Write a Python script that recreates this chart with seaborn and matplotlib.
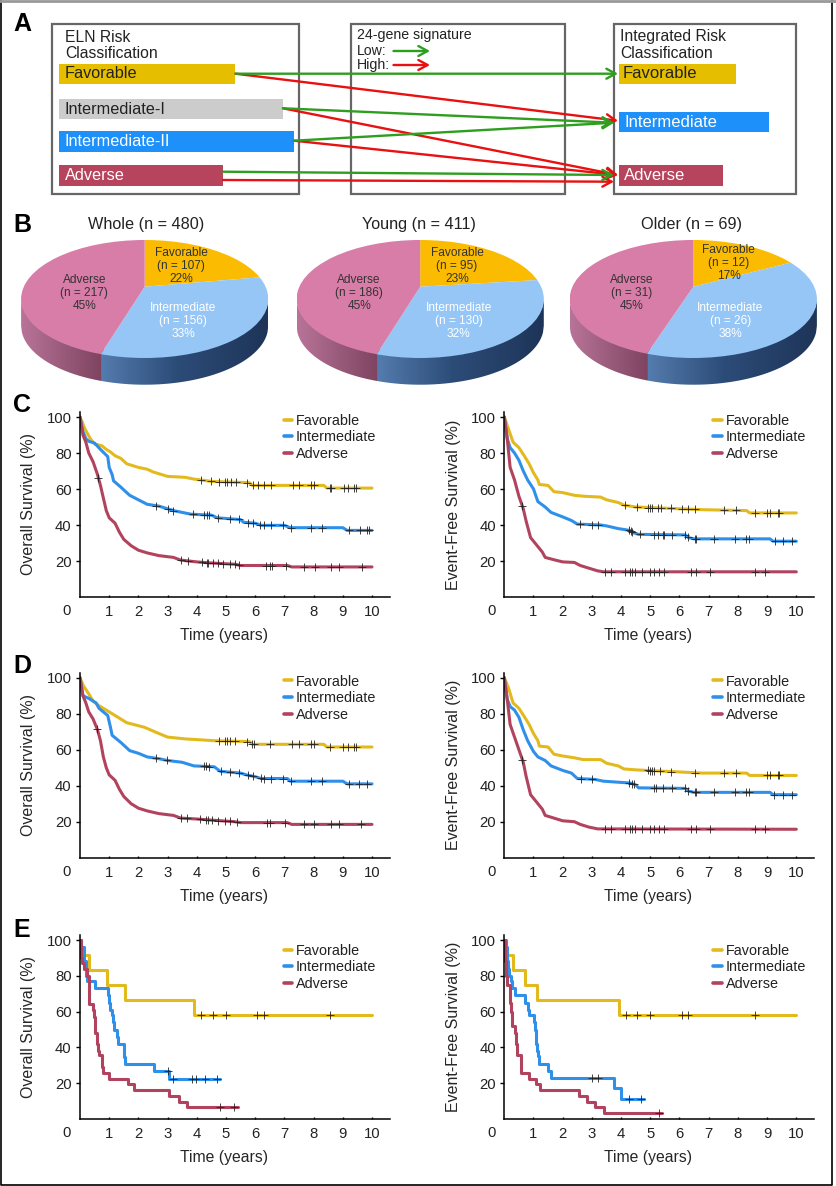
import numpy as np
import matplotlib
matplotlib.use("Agg")
import matplotlib.pyplot as plt
import seaborn as sns
from matplotlib.patches import Rectangle, Ellipse, Polygon

# panel B
pie_names = ["Favorable", "Intermediate", "Adverse"]
pie_titles = ["Whole (n = 480)", "Young (n = 411)", "Older (n = 69)"]
whole_n = [107, 156, 217]
young_n = [95, 130, 186]
older_n = [12, 26, 31]
whole_pct = [22, 33, 45]
young_pct = [23, 32, 45]
older_pct = [17, 38, 45]

# panel C, overall survival
c_os_fav_t = [0, .08, .15, .25, .35, .5, .75, .9, 1.05, 1.2, 1.4, 1.6, 1.8, 2.0, 2.3, 2.5, 2.8, 3.0, 3.6, 3.9, 4.15, 4.5, 5.8, 5.9, 8.35, 8.45, 10]
c_os_fav_s = [100, 97, 94, 91, 88, 85, 84, 82, 80.5, 78.5, 77, 74, 73, 72, 71, 69.5, 68, 67, 66.5, 65.5, 65, 64.2, 63.5, 62, 62, 60.5, 60.5]
c_os_fav_c = [4.15, 4.5, 4.75, 4.97, 5.03, 5.17, 5.34, 5.71, 5.91, 6.08, 6.29, 6.54, 7.29, 7.51, 7.92, 8.03, 8.57, 8.6, 9.03, 9.17, 9.4, 9.45]
c_os_int_t = [0, .1, .2, .3, .5, .7, .95, 1.0, 1.1, 1.15, 1.4, 1.7, 2.0, 2.3, 2.7, 3.0, 3.2, 3.8, 4.5, 4.7, 5.5, 5.6, 6.0, 6.2, 7.0, 7.2, 9.0, 9.15, 10]
c_os_int_s = [100, 92, 88, 86.5, 85.5, 82, 78, 72, 68, 64.5, 61, 56.5, 54, 51.5, 50.5, 49, 48, 46, 45.5, 44, 43, 41.5, 41, 39.8, 39.8, 38.5, 38.5, 37, 37]
c_os_int_c = [2.59, 3.0, 3.2, 3.86, 4.25, 4.34, 4.42, 4.74, 5.14, 5.43, 5.77, 5.94, 6.17, 6.29, 6.54, 6.95, 7.23, 7.91, 8.29, 9.22, 9.58, 9.83, 9.89]
c_os_adv_t = [0, .1, .2, .3, .45, .6, .7, .8, .9, 1.0, 1.2, 1.35, 1.5, 1.75, 2.0, 2.3, 2.7, 3.2, 3.45, 4.0, 4.4, 5.3, 5.5, 7.1, 7.25, 10]
c_os_adv_s = [100, 90, 86, 80, 75, 68, 62, 55, 48, 44, 41, 36, 32, 28.5, 26, 24.5, 23, 22, 20.5, 19.5, 19, 18.2, 17.5, 17.5, 16.7, 16.7]
c_os_adv_c = [.63, 3.46, 3.69, 4.17, 4.34, 4.4, 4.57, 4.74, 4.91, 5.14, 5.31, 5.45, 6.37, 6.49, 6.57, 7.05, 7.68, 8.05, 8.59, 8.88, 9.66]

# panel C, event-free survival
c_ef_fav_t = [0, .15, .3, .5, .7, .85, 1.0, 1.15, 1.2, 1.5, 1.7, 2.0, 2.4, 2.7, 3.3, 3.5, 3.9, 4.1, 4.5, 6.8, 8.3, 8.4, 10]
c_ef_fav_s = [100, 93, 86, 83, 78, 74, 69, 65, 62.5, 62, 58.5, 58, 56.5, 56, 55.5, 54, 52.5, 51, 50, 48.5, 48, 46.7, 46.7]
c_ef_fav_c = [4.15, 4.55, 4.93, 4.98, 5.06, 5.27, 5.35, 5.72, 6.07, 6.29, 6.52, 7.51, 7.92, 8.57, 9.0, 9.09, 9.36, 9.41]
c_ef_int_t = [0, .1, .2, .35, .5, .65, .8, 1.0, 1.15, 1.4, 1.6, 2.0, 2.3, 2.5, 3.3, 3.5, 3.9, 4.3, 4.4, 4.6, 6.2, 6.3, 6.5, 9.1, 9.2, 10]
c_ef_int_s = [100, 88, 83, 80, 76, 70, 65, 60, 53, 50, 47, 44.5, 42.5, 40.5, 40, 39.5, 38, 37, 35.8, 34.8, 34.5, 33, 32.3, 32.3, 31, 31]
c_ef_int_c = [2.59, 2.99, 3.22, 4.28, 4.33, 4.39, 4.66, 5.13, 5.27, 5.42, 5.47, 5.75, 6.18, 6.29, 6.52, 6.58, 7.17, 7.91, 8.27, 8.37, 9.26, 9.54, 9.86]
c_ef_adv_t = [0, .1, .2, .35, .5, .65, .75, .9, 1.1, 1.3, 1.4, 1.7, 2.0, 2.4, 2.6, 2.9, 3.2, 3.4, 10]
c_ef_adv_s = [100, 88, 72, 65, 56, 49, 42, 33, 29, 25, 22, 20.7, 19.5, 19.2, 17.5, 16, 14.5, 14, 14]
c_ef_adv_c = [.62, 3.44, 3.67, 4.15, 4.32, 4.39, 4.47, 4.7, 4.98, 5.13, 5.3, 5.47, 6.41, 6.56, 7.04, 8.57, 8.92]

# panel D, overall survival
d_os_fav_t = [0, .1, .3, .45, .6, .7, 1.2, 1.6, 2.2, 2.6, 3.0, 3.6, 4.6, 5.8, 5.9, 8.35, 8.45, 10]
d_os_fav_s = [100, 96, 91, 87, 85, 84, 79, 75, 72.5, 69.7, 67, 66, 65, 64.5, 63, 63, 61.5, 61.5]
d_os_fav_c = [4.77, 4.97, 5.03, 5.14, 5.31, 5.71, 5.89, 5.97, 6.51, 7.26, 7.51, 7.92, 8.03, 8.57, 8.99, 9.17, 9.37, 9.44]
d_os_int_t = [0, .1, .3, .55, .65, .95, 1.05, 1.1, 1.4, 1.7, 2.0, 2.3, 2.7, 3.0, 3.5, 3.9, 4.6, 4.8, 5.5, 5.7, 6.0, 6.2, 7.1, 7.2, 9.0, 9.15, 10]
d_os_int_s = [100, 90, 88.5, 86, 83, 79, 72, 68, 64, 59.5, 58, 56, 55, 54, 53, 51, 50.5, 48, 47, 46, 45, 44, 44, 42.5, 42.5, 41, 41]
d_os_int_c = [2.59, 2.97, 4.25, 4.32, 4.43, 4.82, 5.14, 5.43, 5.74, 5.94, 6.19, 6.29, 6.54, 6.95, 7.23, 7.91, 8.29, 9.22, 9.55, 9.83]
d_os_adv_t = [0, .1, .2, .3, .45, .6, .7, .8, .9, 1.0, 1.2, 1.35, 1.5, 1.75, 2.0, 2.3, 2.7, 3.2, 3.45, 4.0, 4.4, 5.3, 5.5, 7.1, 7.25, 10]
d_os_adv_s = [100, 90, 86, 81, 77, 71, 65, 56, 50, 46, 43, 38, 34, 30, 27.5, 26, 24.5, 23.5, 22, 21.5, 21, 20, 19.5, 19.5, 18.5, 18.5]
d_os_adv_c = [.59, 3.46, 3.66, 4.11, 4.32, 4.38, 4.51, 4.74, 4.97, 5.14, 5.39, 6.4, 6.51, 7.03, 7.68, 8.02, 8.59, 8.88, 9.62]

# panel D, event-free survival
d_ef_fav_t = [0, .15, .3, .5, .7, .85, 1.0, 1.15, 1.2, 1.5, 1.7, 2.0, 2.4, 2.7, 3.3, 3.5, 3.9, 4.1, 4.5, 6.8, 8.3, 8.4, 10]
d_ef_fav_s = [100, 94, 86, 83, 78, 74, 69, 65, 62, 61.5, 57.5, 56.5, 55.5, 54.5, 54.5, 52.5, 51, 49.3, 48.8, 47, 47, 45.7, 45.7]
d_ef_fav_c = [4.93, 4.98, 5.06, 5.12, 5.32, 5.72, 6.52, 7.51, 7.95, 9.0, 9.09, 9.36, 9.41]
d_ef_int_t = [0, .1, .2, .35, .5, .65, .8, 1.0, 1.15, 1.4, 1.6, 2.0, 2.3, 2.5, 3.1, 3.4, 4.3, 4.5, 4.6, 6.2, 6.3, 6.5, 9.1, 9.2, 10]
d_ef_int_s = [100, 88, 84, 82, 78, 71, 65, 59, 56, 54, 51, 48.5, 47, 44, 43.5, 42.5, 41.5, 40.5, 38.8, 38.5, 37, 36.3, 36.3, 35, 35]
d_ef_int_c = [2.62, 2.99, 4.28, 4.36, 4.44, 5.13, 5.21, 5.44, 5.75, 6.18, 6.29, 6.52, 6.58, 7.17, 7.91, 8.27, 8.37, 9.22, 9.54, 9.86]
d_ef_adv_t = [0, .1, .2, .35, .5, .65, .75, .9, 1.1, 1.3, 1.4, 1.7, 2.0, 2.4, 2.6, 2.9, 3.2, 10]
d_ef_adv_s = [100, 88, 74, 67, 60, 53, 45, 35, 31, 27, 23.5, 22, 20.5, 20, 18.5, 17, 16, 15.8]
d_ef_adv_c = [.62, 3.44, 3.67, 4.15, 4.32, 4.39, 4.49, 4.7, 4.98, 5.13, 5.3, 5.47, 6.41, 6.56, 7.04, 8.57, 8.92]

# panel E, overall survival
e_os_fav_t = [0, .01, .3, .92, 1.55, 3.9, 10]
e_os_fav_s = [100, 91.7, 83.3, 75, 66.7, 58.3, 58.3]
e_os_fav_c = [4.14, 4.54, 4.99, 6.06, 6.29, 8.55]
e_os_int_t = [0, .05, .12, .15, .2, .22, .25, .5, .95, 1.0, 1.03, 1.08, 1.13, 1.15, 1.27, 1.3, 1.5, 1.52, 1.55, 2.55, 3.05, 4.8]
e_os_int_s = [100, 96, 92, 88.5, 84, 80, 77, 73, 69, 65, 61, 58, 54, 50, 46, 42, 38, 34.5, 30.7, 26.9, 22.3, 22.3]
e_os_int_c = [3.0, 3.18, 3.83, 3.98, 4.29, 4.69]
e_os_adv_t = [0, .03, .08, .15, .25, .3, .32, .45, .47, .5, .53, .57, .6, .65, .75, .8, 1.0, 1.65, 1.85, 3.05, 3.4, 3.65, 5.4]
e_os_adv_s = [100, 90, 87, 84, 80, 71, 64.5, 61, 57, 52, 48, 42, 38, 35.5, 29, 25.8, 22.6, 19.4, 16.1, 12.9, 9.7, 6.5, 6.5]
e_os_adv_c = [4.8, 5.29]

# panel E, event-free survival
e_ef_fav_t = [0, .01, .3, .72, 1.12, 3.93, 10]
e_ef_fav_s = [100, 91.7, 83.3, 75, 66.7, 58.3, 58.3]
e_ef_fav_c = [4.16, 4.56, 4.98, 6.09, 6.29, 8.57]
e_ef_int_t = [0, .05, .1, .13, .17, .22, .25, .37, .72, .8, .85, 1.03, 1.05, 1.08, 1.1, 1.12, 1.15, 1.18, 1.5, 1.6, 3.75, 4.0, 4.8]
e_ef_int_s = [100, 96, 88, 84, 80, 77, 73, 69, 65, 61, 58, 54, 50, 46, 42, 38, 35, 31, 27, 23, 17.3, 11.3, 11.3]
e_ef_int_c = [3.01, 3.22, 4.28, 4.68]
e_ef_adv_t = [0, .03, .05, .1, .18, .2, .22, .25, .38, .4, .43, .57, .58, .83, 1.07, 1.22, 2.55, 2.83, 3.1, 3.4, 5.4]
e_ef_adv_s = [100, 88, 80, 75, 71, 65, 60, 52, 48, 42, 35.5, 29, 25.8, 22.6, 19.4, 16, 13, 9.7, 6.5, 3.2, 3.2]
e_ef_adv_c = [5.29]

km_names = ["Favorable", "Intermediate", "Adverse"]
km_colors = ["#E3BA1E", "#2F90EA", "#B2435F"]
x_ticks = [1, 2, 3, 4, 5, 6, 7, 8, 9, 10]
y_ticks = [20, 40, 60, 80, 100]

sns.set_theme(style="white")
plt.rcParams["font.family"] = ["Liberation Sans", "DejaVu Sans"]
plt.rcParams["text.color"] = "#222222"

W, H = 837, 1186
fig = plt.figure(figsize=(W / 100, H / 100), dpi=100, facecolor="white")


def px_axes(left, top, right, bottom, **kw):
    return fig.add_axes([left / W, 1 - bottom / H, (right - left) / W, (bottom - top) / H], **kw)


bg = px_axes(0, 0, W, H)
bg.set_xlim(0, W)
bg.set_ylim(H, 0)
bg.axis("off")

# outer frame
bg.plot([1, 1, 832, 832], [0, 1185, 1185, 0], color="black", lw=1.2)
bg.plot([0, 837], [1, 1], color="#999999", lw=2)

for letter, yy in zip("ABCDE", [24, 225, 405, 666, 930]):
    bg.text(13, yy, letter, fontsize=18, fontweight="bold", color="black", va="center", ha="left")

# panel A
for x0, x1 in [(52, 299), (351, 565), (614, 796)]:
    bg.add_patch(Rectangle((x0, 24), x1 - x0, 170, fill=False, ec="#666666", lw=1.6))

bar_fav, bar_mid, bar_blue, bar_adv = "#E5BE00", "#CCCCCC", "#1E90FA", "#B5445C"
left_bars = [("Favorable", 235.5, 63.5, bar_fav, "#222222"),
             ("Intermediate-I", 283, 98.5, bar_mid, "#222222"),
             ("Intermediate-II", 294, 131, bar_blue, "white"),
             ("Adverse", 223, 165, bar_adv, "white")]
for name, x1, y0, col, tc in left_bars:
    bg.add_patch(Rectangle((58.7, y0), x1 - 58.7, 20.5, color=col, lw=0))
    bg.text(65, y0 + 10.5, name, fontsize=11.7, color=tc, va="center")
right_bars = [("Favorable", 736, 63.5, bar_fav, "#222222", 623),
              ("Intermediate", 769.5, 111.8, bar_blue, "white", 624.5),
              ("Adverse", 723, 165, bar_adv, "white", 623.5)]
for name, x1, y0, col, tc, xt in right_bars:
    bg.add_patch(Rectangle((619.3, y0), x1 - 619.3, 20.5, color=col, lw=0))
    bg.text(xt, y0 + 10.5, name, fontsize=12, color=tc, va="center")

bg.text(65, 37, "ELN Risk", fontsize=11.3, va="center")
bg.text(65, 53, "Classification", fontsize=11.3, va="center")
bg.text(620.5, 37, "Integrated Risk", fontsize=11.3, va="center")
bg.text(620.5, 53, "Classification", fontsize=11.3, va="center")
bg.text(357, 35, "24-gene signature", fontsize=10.2, va="center")
bg.text(357, 51, "Low:", fontsize=10.2, va="center")
bg.text(357, 65, "High:", fontsize=10.2, va="center")

green, red = "#2E9E1F", "#E81010"
arrows = [((235.5, 73.7), (618, 120.7), red), ((283, 108.3), (618, 175), red),
          ((294, 140.7), (618, 175), red), ((223, 180), (614, 181.7), red),
          ((393.5, 65), (430, 65), red),
          ((235.5, 73.7), (618, 73.7), green), ((283, 108.3), (614, 122.7), green),
          ((294, 140.7), (614, 122.7), green), ((223, 171.7), (614, 175), green),
          ((393.5, 51), (430, 51), green)]
for p0, p1, col in arrows:
    bg.annotate("", xy=p1, xytext=p0,
                arrowprops=dict(arrowstyle="->,head_length=0.55,head_width=0.3", color=col, lw=1.7,
                                shrinkA=0, shrinkB=0))

# panel B
pie_cols = ["#FBBB00", "#95C6F5", "#D87CA8"]
pie_cx = [144.7, 420.2, 693.3]
title_x = [146, 418.8, 691.4]
label_dx = [(36.3, 38.4, -60.3), (36.8, 38.4, -61), (35.5, 37, -62)]
label_fav_y = [252, 252, 249]
label_int_y = 307
label_adv_y = 279
label_cols = ["#333333", "white", "#333333"]
rx, ry, depth, apex = 123.6, 59, 26.7 / 59, 0.208
pink_l, pink_r = np.array([184, 116, 152]) / 255, np.array([126, 68, 96]) / 255
blue_l, blue_m, blue_r = np.array([84, 124, 174]) / 255, np.array([44, 76, 120]) / 255, np.array([30, 52, 88]) / 255

for i, (counts, pcts) in enumerate(zip([whole_n, young_n, older_n], [whole_pct, young_pct, older_pct])):
    ax = px_axes(pie_cx[i] - rx, 240, pie_cx[i] + rx, 240 + 2 * ry + 26.7)
    wedges, _ = ax.pie(counts, colors=pie_cols, startangle=90, counterclock=False,
                       center=(0, apex), radius=3, wedgeprops=dict(linewidth=0))
    # side wall, split where the intermediate and adverse slices meet
    ang = 2 * np.pi * (counts[0] + counts[1]) / sum(counts)
    dx, dy = np.sin(ang), np.cos(ang)
    b = apex * dy
    r = -b + np.sqrt(b * b - (apex * apex - 1))
    xb = dx * r
    xs = np.linspace(-1, 1, 300)
    rgb = np.zeros((1, 300, 3))
    for j, xv in enumerate(xs):
        if xv < xb:
            f = (xv + 1) / (xb + 1)
            rgb[0, j] = pink_l + (pink_r - pink_l) * f
        else:
            f = (xv - xb) / (1 - xb)
            if f < 0.45:
                rgb[0, j] = blue_l + (blue_m - blue_l) * f / 0.45
            else:
                rgb[0, j] = blue_m + (blue_r - blue_m) * (f - 0.45) / 0.55
    im = ax.imshow(rgb, extent=(-1, 1, -1 - depth, 0.3), aspect="auto", zorder=1)
    ax.set_aspect("auto")
    ax.set_xlim(-1, 1)
    ax.set_ylim(-1 - depth, 1)
    ax.axis("off")
    low = -np.sqrt(1 - xs ** 2)
    wall = Polygon(np.r_[np.c_[xs, low * 0.9], np.c_[xs[::-1], low[::-1] - depth]], closed=True,
                   transform=ax.transData, fc="none", ec="none")
    ax.add_patch(wall)
    im.set_clip_path(wall)
    ellipse = Ellipse((0, 0), 2, 2, fc="none", ec="none")
    ax.add_patch(ellipse)
    for w in wedges:
        w.set_clip_on(True)
        w.set_clip_path(ellipse)
        w.set_zorder(3)
    bg.text(title_x[i], 225, pie_titles[i], fontsize=11.7, ha="center", va="center")

    ys = [label_fav_y[i], label_int_y, label_adv_y]
    for k in range(3):
        txt = f"{pie_names[k]}\n(n = {counts[k]})\n{pcts[k]}%"
        fig.text((pie_cx[i] + label_dx[i][k]) / W, 1 - (ys[k] + 13.7) / H, txt, fontsize=8.6, ha="center",
                 va="center", linespacing=1.12, color=label_cols[k], zorder=10)

# survival panels: origin x, y of the axis line, pixels per percent, legend top, data
left_x, right_x = 80, 504.3
panels = [
    (left_x, 597, 1.8, 0.99, "Overall Survival (%)", "default",
     [(c_os_fav_t, c_os_fav_s, c_os_fav_c), (c_os_int_t, c_os_int_s, c_os_int_c), (c_os_adv_t, c_os_adv_s, c_os_adv_c)]),
    (right_x, 597, 1.8, 0.99, "Event-Free Survival (%)", "default",
     [(c_ef_fav_t, c_ef_fav_s, c_ef_fav_c), (c_ef_int_t, c_ef_int_s, c_ef_int_c), (c_ef_adv_t, c_ef_adv_s, c_ef_adv_c)]),
    (left_x, 857.7, 1.8, 0.99, "Overall Survival (%)", "default",
     [(d_os_fav_t, d_os_fav_s, d_os_fav_c), (d_os_int_t, d_os_int_s, d_os_int_c), (d_os_adv_t, d_os_adv_s, d_os_adv_c)]),
    (right_x, 857.7, 1.8, 0.99, "Event-Free Survival (%)", "default",
     [(d_ef_fav_t, d_ef_fav_s, d_ef_fav_c), (d_ef_int_t, d_ef_int_s, d_ef_int_c), (d_ef_adv_t, d_ef_adv_s, d_ef_adv_c)]),
    (left_x, 1119, 1.79, 0.952, "Overall Survival (%)", "steps-post",
     [(e_os_fav_t, e_os_fav_s, e_os_fav_c), (e_os_int_t, e_os_int_s, e_os_int_c), (e_os_adv_t, e_os_adv_s, e_os_adv_c)]),
    (right_x, 1119, 1.79, 0.952, "Event-Free Survival (%)", "steps-post",
     [(e_ef_fav_t, e_ef_fav_s, e_ef_fav_c), (e_ef_int_t, e_ef_int_s, e_ef_int_c), (e_ef_adv_t, e_ef_adv_s, e_ef_adv_c)]),
]

for x0, y0, ppu, leg_top, ylab, dstyle, curves in panels:
    ax = px_axes(x0, y0 - 102.8 * ppu, x0 + 10.6 * 29.2, y0)
    ax.patch.set_alpha(0)
    for name, col, (t, s, cens) in zip(km_names, km_colors, curves):
        sns.lineplot(x=t, y=s, drawstyle=dstyle, color=col, lw=2.2, label=name, errorbar=None, ax=ax)
        if dstyle == "default":
            cens_y = np.interp(cens, t, s)
        else:
            cens_y = np.array(s)[np.searchsorted(t, cens, side="right") - 1]
        sns.scatterplot(x=cens, y=cens_y, marker="+", s=32, color="#222222", linewidth=0.6,
                        ax=ax, zorder=5)
    ax.set_xlim(0, 10.6)
    ax.set_ylim(0, 102.8)
    ax.set_xticks(x_ticks)
    ax.set_yticks(y_ticks)
    ax.tick_params(axis="x", direction="in", length=1.8, width=1, color="black", bottom=True, pad=6,
                   labelsize=10.7, labelcolor="#222222")
    ax.tick_params(axis="y", length=3, width=1, color="black", pad=3, labelsize=10.7, labelcolor="#222222", left=True)
    ax.annotate("0", xy=(0, 0), xycoords="data", xytext=(-13, -14), textcoords="offset pixels",
                fontsize=10.7, ha="center", va="center")
    ax.spines["top"].set_visible(False)
    ax.spines["right"].set_visible(False)
    for sp in ["left", "bottom"]:
        ax.spines[sp].set_color("black")
        ax.spines[sp].set_linewidth(1.1)
    ax.set_xlabel("Time (years)", fontsize=11.3, va="center")
    ax.set_ylabel(ylab, fontsize=11.5, va="center")
    ax.xaxis.set_label_coords(0.465, -38.7 / (102.8 * ppu))
    ax.yaxis.set_label_coords(-51 / 309.5, 0.5)
    leg_x = 0.658 if x0 == left_x else 0.675
    leg = ax.legend(frameon=False, loc="upper left", bbox_to_anchor=(leg_x, leg_top), fontsize=10.4,
                    handlelength=0.6, handletextpad=0.25, labelspacing=0.18, borderpad=0, borderaxespad=0)
    for line in leg.get_lines():
        line.set_linewidth(2.6)

fig.savefig("out.png", dpi=100, facecolor="white")
